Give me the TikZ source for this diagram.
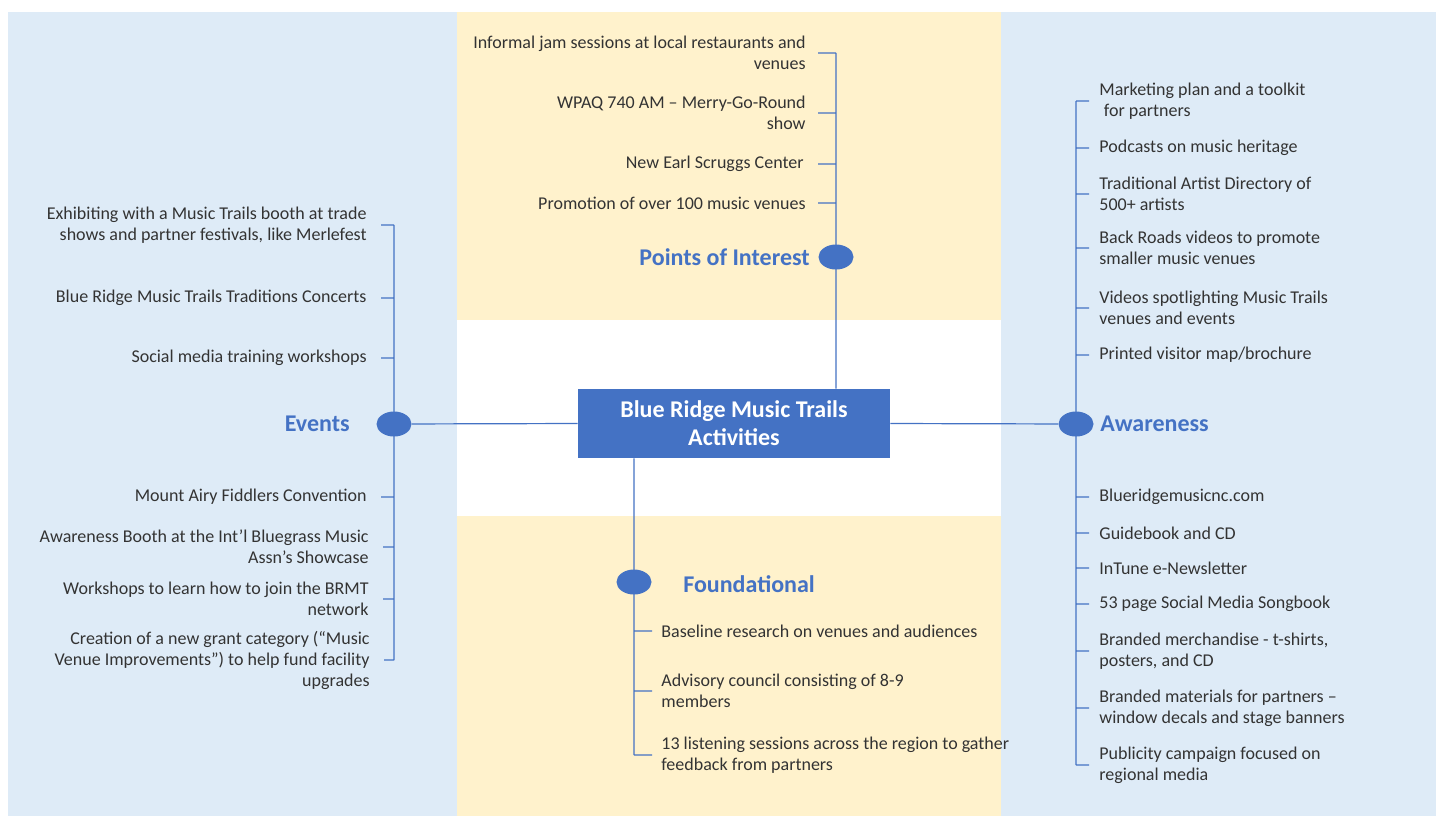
\documentclass[tikz,border=0pt]{standalone}
\usepackage{fontspec}
\setmainfont{Carlito}
\usetikzlibrary{positioning,shapes.geometric}
\definecolor{panelblue}{HTML}{DEEBF7}
\definecolor{panelyellow}{HTML}{FFF2CC}
\definecolor{accent}{HTML}{4472C4}
\definecolor{itemtext}{HTML}{333333}

\begin{document}
\begin{tikzpicture}[x=0.5pt,y=-0.5pt]
    \useasboundingbox (0,0) rectangle (1436,816);
    % background panels
    \fill[white] (0,0) rectangle (1436,816);
    \fill[panelblue] (8,12) rectangle (457,816);
    \fill[panelblue] (1001,12) rectangle (1436,816);
    \fill[panelyellow] (457,12) rectangle (1001,320);
    \fill[panelyellow] (457,516) rectangle (1001,816);

    \begin{scope}[text centered,
    		core/.style={rectangle,fill=accent,text=white,font=\bfseries\fontsize{12}{14}\selectfont,minimum width=156pt,minimum height=34.5pt,align=center},
    		hub/.style={ellipse,fill=accent,minimum width=17.5pt,minimum height=12.5pt,inner sep=0pt},
    		hubtext/.style={text=accent,font=\bfseries\fontsize{12}{14}\selectfont,inner sep=0pt},
    		item/.style={text=itemtext,font=\fontsize{9}{10.5}\selectfont,inner sep=0pt},
    		itemL/.style={item,anchor=east,align=right},
    		itemR/.style={item,anchor=west,align=left},
    		branch/.style={accent,line width=0.6pt}]

    \node[core] (core) at (734,423.5) {Blue Ridge Music Trails\\Activities};

    \node[hub] (events) at (394,424) {};
    \node[hub] (poi) at (836,257) {};
    \node[hub] (aware) at (1076,424) {};
    \node[hub] (found) at (634,582) {};

    \node[hubtext] (eventsT) [left=13pt of events] {Events};
    \node[hubtext] (poiT) [left=4pt of poi] {Points of Interest};
    \node[hubtext] (awareT) [right=3pt of aware] {Awareness};
    \node[hubtext] (foundT) [right=15.5pt of found, yshift=-1pt] {Foundational};

    % events
    \node[itemL] (ev1) at (367,225) {Exhibiting with a Music Trails booth at trade\\shows and partner festivals, like Merlefest};
    \node[itemL] (ev2) at (367,298) {Blue Ridge Music Trails Traditions Concerts};
    \node[itemL] (ev3) at (367,358) {Social media training workshops};
    \node[itemL] (ev4) at (367,497) {Mount Airy Fiddlers Convention};
    \node[itemL] (ev5) at (369,547) {Awareness Booth at the Int’l Bluegrass Music\\Assn’s Showcase};
    \node[itemL] (ev6) at (369,599) {Workshops to learn how to join the BRMT\\network};
    \node[itemL] (ev7) at (370,660) {Creation of a new grant category (“Music\\Venue Improvements”) to help fund facility\\upgrades};

    % points of interest
    \node[itemL] (poi1) at (806,53) {Informal jam sessions at local restaurants and\\venues};
    \node[itemL] (poi2) at (806,113) {WPAQ 740 AM – Merry-Go-Round\\show};
    \node[itemL] (poi3) at (804,164) {New Earl Scruggs Center};
    \node[itemL] (poi4) at (806,203) {Promotion of over 100 music venues};

    % awareness
    \node[itemR] (aw1) at (1099,101) {Marketing plan and a toolkit\\\hspace*{0.25em}for partners};
    \node[itemR] (aw2) at (1099,148) {Podcasts on music heritage};
    \node[itemR] (aw3) at (1099,194) {Traditional Artist Directory of\\500+ artists};
    \node[itemR] (aw4) at (1099,248) {Back Roads videos to promote\\smaller music venues};
    \node[itemR] (aw5) at (1099,308) {Videos spotlighting Music Trails\\venues and events};
    \node[itemR] (aw6) at (1099,355) {Printed visitor map/brochure};
    \node[itemR] (aw7) at (1099,497) {Blueridgemusicnc.com};
    \node[itemR] (aw8) at (1099,533) {Guidebook and CD};
    \node[itemR] (aw9) at (1099,568) {InTune e-Newsletter};
    \node[itemR] (aw10) at (1099,604) {53 page Social Media Songbook};
    \node[itemR] (aw11) at (1099,651) {Branded merchandise - t-shirts,\\posters, and CD};
    \node[itemR] (aw12) at (1099,708) {Branded materials for partners –\\window decals and stage banners};
    \node[itemR] (aw13) at (1099,765) {Publicity campaign focused on\\regional media};

    % foundational
    \node[itemR] (fd1) at (661,631) {Baseline research on venues and audiences};
    \node[itemR] (fd2) at (661,691) {Advisory council consisting of 8-9\\members};
    \node[itemR] (fd3) at (661,755) {13 listening sessions across the region to gather\\feedback from partners};

    \draw[branch]
    (events) -- (core.west)
    (core.east) -- (aware)
    (poi1 -| poi) -- (poi |- core.north)
    (found |- core.south) -- (found |- fd3)
    (ev1 -| events) -- (ev7 -| events)
    (aw1 -| aware) -- (aw13 -| aware)
    ([xshift=7pt]ev1.east) -- (ev1 -| events)
    ([xshift=7pt]ev2.east) -- (ev2 -| events)
    ([xshift=7pt]ev3.east) -- (ev3 -| events)
    ([xshift=7pt]ev4.east) -- (ev4 -| events)
    ([xshift=7pt]ev5.east) -- (ev5 -| events)
    ([xshift=7pt]ev6.east) -- (ev6 -| events)
    ([xshift=7pt]ev7.east) -- (ev7 -| events)
    ([xshift=6pt]poi1.east) -- (poi1 -| poi)
    ([xshift=6pt]poi2.east) -- (poi2 -| poi)
    ([xshift=7pt]poi3.east) -- (poi3 -| poi)
    ([xshift=6pt]poi4.east) -- (poi4 -| poi)
    (aw1 -| aware) -- ([xshift=-5pt]aw1.west)
    (aw2 -| aware) -- ([xshift=-5pt]aw2.west)
    (aw3 -| aware) -- ([xshift=-5pt]aw3.west)
    (aw4 -| aware) -- ([xshift=-5pt]aw4.west)
    (aw5 -| aware) -- ([xshift=-5pt]aw5.west)
    (aw6 -| aware) -- ([xshift=-5pt]aw6.west)
    (aw7 -| aware) -- ([xshift=-5pt]aw7.west)
    (aw8 -| aware) -- ([xshift=-5pt]aw8.west)
    (aw9 -| aware) -- ([xshift=-5pt]aw9.west)
    (aw10 -| aware) -- ([xshift=-5pt]aw10.west)
    (aw11 -| aware) -- ([xshift=-5pt]aw11.west)
    (aw12 -| aware) -- ([xshift=-5pt]aw12.west)
    (aw13 -| aware) -- ([xshift=-5pt]aw13.west)
    (fd1 -| found) -- ([xshift=-4.5pt]fd1.west)
    (fd2 -| found) -- ([xshift=-4.5pt]fd2.west)
    (fd3 -| found) -- ([xshift=-4.5pt]fd3.west);

    \end{scope}
\end{tikzpicture}
\end{document}
